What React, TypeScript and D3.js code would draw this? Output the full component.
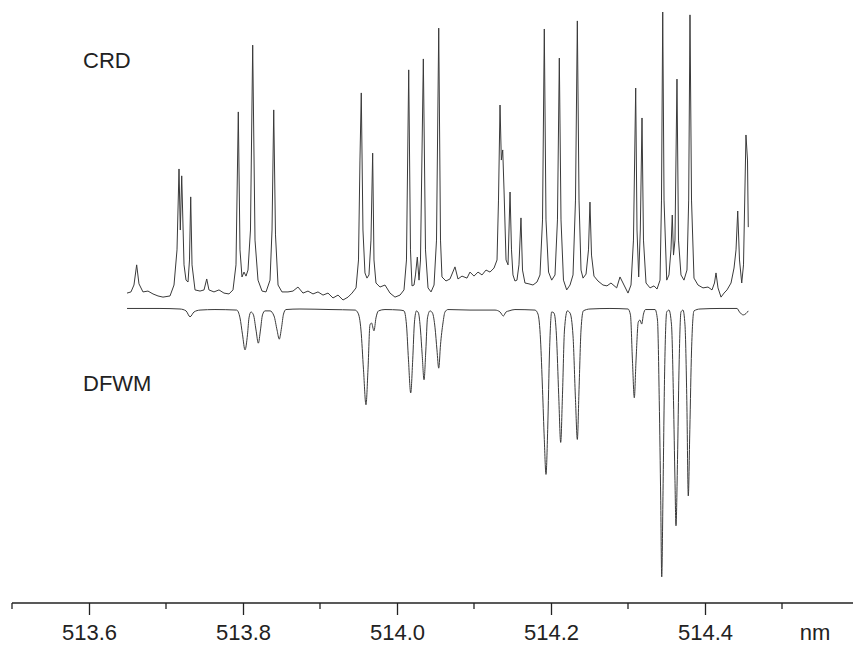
import React, { useEffect, useRef } from 'react'
import * as d3 from 'd3'

// CRD spectrum: [wavelength nm, intensity (arb.)]
const crdTrace: [number, number][] = [
  [513.6494, 2.4], [513.6545, 2.8], [513.6584, 5.2], [513.6619, 12.2], [513.6649, 5.6], [513.6701, 2.8],
  [513.6766, 3.1], [513.6831, 2.1], [513.6896, 1.4], [513.6961, 1.0], [513.7052, 1.4], [513.7104, 5.2],
  [513.7143, 17.4], [513.7169, 45.5], [513.7186, 24.3], [513.7204, 43.1], [513.7234, 12.2], [513.726, 6.9],
  [513.7286, 6.25], [513.7305, 13.9], [513.7321, 35.8], [513.7338, 12.2], [513.7377, 3.5], [513.7442, 3.1],
  [513.7494, 3.5], [513.7529, 7.3], [513.7558, 3.5], [513.7623, 2.8], [513.7688, 3.5], [513.7753, 2.4],
  [513.7818, 2.1], [513.787, 3.5], [513.7909, 12.2], [513.7939, 65.3], [513.7961, 17.4], [513.7987, 8.0],
  [513.8013, 9.7], [513.8039, 8.3], [513.8065, 10.4], [513.8097, 24.3], [513.8126, 88.5], [513.8156, 20.8],
  [513.8195, 6.9], [513.8247, 3.1], [513.8299, 2.8], [513.8351, 6.9], [513.8377, 24.3], [513.8399, 66.0],
  [513.8422, 22.6], [513.8455, 5.2], [513.8506, 2.8], [513.8584, 2.8], [513.8649, 3.1], [513.8714, 4.5],
  [513.8779, 2.4], [513.8844, 3.1], [513.8909, 2.1], [513.8974, 2.8], [513.9039, 1.7], [513.9104, 2.4],
  [513.9169, 0.7], [513.9234, 1.7], [513.9299, 0], [513.9364, 1.0], [513.9416, 2.4], [513.9468, 4.2],
  [513.95, 13.9], [513.9519, 48.6], [513.9536, 71.9], [513.9558, 24.3], [513.9584, 9.4], [513.961, 7.6],
  [513.9636, 8.7], [513.9662, 20.8], [513.9684, 51.0], [513.9701, 13.9], [513.9727, 5.9], [513.9779, 4.5],
  [513.9844, 5.2], [513.9909, 2.4], [513.9974, 1.0], [514.0039, 1.7], [514.0091, 3.5], [514.0123, 13.9],
  [514.0152, 79.9], [514.0175, 17.4], [514.0195, 4.9], [514.0221, 5.2], [514.024, 8.7], [514.0264, 14.9],
  [514.0286, 6.9], [514.0305, 13.9], [514.0342, 83.7], [514.037, 17.4], [514.0403, 4.2], [514.0442, 2.8],
  [514.0481, 5.2], [514.0513, 20.8], [514.0542, 94.4], [514.0565, 20.8], [514.0584, 8.0], [514.0636, 6.6],
  [514.0688, 7.3], [514.0753, 11.5], [514.0792, 7.3], [514.0844, 8.3], [514.0909, 7.6], [514.0948, 9.7],
  [514.1, 8.3], [514.1052, 9.7], [514.1104, 8.7], [514.1156, 10.4], [514.1208, 9.7], [514.126, 11.1],
  [514.1299, 13.9], [514.1318, 34.7], [514.1338, 67.7], [514.1355, 48.6], [514.1373, 52.1], [514.139, 38.2],
  [514.1416, 13.9], [514.1442, 12.2], [514.1468, 37.5], [514.1487, 17.4], [514.1506, 8.7], [514.1532, 6.6],
  [514.1558, 6.9], [514.1584, 12.2], [514.161, 28.5], [514.163, 10.4], [514.1662, 5.9], [514.1714, 5.6],
  [514.1766, 5.2], [514.1818, 6.25], [514.1857, 8.7], [514.189, 27.8], [514.1913, 94.1], [514.1935, 27.8],
  [514.1968, 9.7], [514.2009, 6.9], [514.2052, 8.7], [514.2084, 27.8], [514.2108, 84.0], [514.213, 27.8],
  [514.2162, 6.9], [514.2204, 3.5], [514.2247, 5.2], [514.2286, 8.7], [514.2318, 34.7], [514.2342, 96.9],
  [514.2364, 34.7], [514.239, 10.4], [514.2416, 7.6], [514.2455, 9.0], [514.2487, 17.4], [514.2506, 34.0],
  [514.2526, 15.6], [514.2558, 8.3], [514.261, 6.6], [514.2675, 5.2], [514.2727, 4.9], [514.2779, 5.9],
  [514.2853, 4.2], [514.2896, 8.0], [514.2948, 5.2], [514.3, 2.4], [514.3039, 5.2], [514.3071, 20.8],
  [514.31, 73.6], [514.3117, 24.3], [514.3139, 8.0], [514.316, 24.3], [514.3182, 63.2], [514.3201, 20.8],
  [514.3234, 5.9], [514.3286, 4.2], [514.3338, 4.9], [514.3377, 3.8], [514.3416, 6.9], [514.3435, 34.7],
  [514.3451, 100], [514.3468, 34.7], [514.3503, 6.9], [514.3532, 8.7], [514.3558, 17.4], [514.3575, 29.5],
  [514.3591, 15.6], [514.361, 20.8], [514.3636, 76.7], [514.3656, 20.8], [514.3688, 8.7], [514.3727, 6.9],
  [514.3766, 10.4], [514.3788, 34.7], [514.3805, 99.0], [514.3825, 34.7], [514.3857, 7.6], [514.3909, 5.2],
  [514.3974, 4.2], [514.4039, 4.5], [514.4091, 3.5], [514.4123, 5.9], [514.4143, 9.4], [514.4169, 4.2],
  [514.4208, 1.0], [514.4247, 2.4], [514.4286, 3.5], [514.4338, 5.9], [514.4377, 11.1], [514.4403, 17.4],
  [514.4425, 30.9], [514.4448, 13.9], [514.4477, 5.9], [514.45, 12.2], [514.4532, 57.3], [514.4552, 48.6],
  [514.4562, 25.3],
]

// DFWM spectrum (plotted downwards): [wavelength nm, intensity (arb.)]
const dfwmTrace: [number, number][] = [
  [513.6494, -0.2], [513.6922, -0.2], [513.7182, 0], [513.726, 0.7], [513.7312, 2.9], [513.7364, 1.1],
  [513.7442, 0.4], [513.7636, 0.2], [513.7918, 0.4], [513.7961, 3.3], [513.7994, 9.6], [513.8026, 15.2],
  [513.8058, 9.6], [513.8078, 3.3], [513.8104, 1.1], [513.8136, 2.2], [513.8169, 7.8], [513.8199, 12.7],
  [513.8227, 7.8], [513.8253, 2.2], [513.8286, 0.7], [513.8351, 0.7], [513.8403, 2.6], [513.8442, 7.8],
  [513.8471, 11.2], [513.85, 7.0], [513.8526, 1.9], [513.8558, 0.2], [513.874, 0], [513.913, 0.2],
  [513.9455, 0.4], [513.9494, 1.5], [513.9532, 7.8], [513.9565, 22.6], [513.9597, 35.6], [513.9623, 22.6],
  [513.9649, 5.9], [513.9669, 5.2], [513.9701, 8.1], [513.9727, 3.3], [513.976, 0.7], [513.9844, 0.2],
  [514.0039, 0.4], [514.0091, 0.7], [514.0123, 5.9], [514.0149, 18.9], [514.0178, 31.2], [514.0204, 18.9],
  [514.0227, 4.8], [514.0253, 0.7], [514.0279, 1.5], [514.0305, 7.8], [514.0327, 17.0], [514.0351, 26.3],
  [514.0374, 15.6], [514.0396, 3.3], [514.0429, 0.7], [514.0461, 1.5], [514.0494, 7.0], [514.0519, 15.2],
  [514.0542, 22.0], [514.0565, 13.3], [514.0597, 5.2], [514.0623, 1.1], [514.0662, 0.2], [514.0948, 0.4],
  [514.1273, 0.4], [514.1338, 1.1], [514.1381, 2.6], [514.1416, 1.1], [514.1455, 0.7], [514.1532, 0.2],
  [514.1792, 0.4], [514.1831, 1.9], [514.1864, 11.5], [514.189, 30.0], [514.1913, 48.5], [514.1935, 61.5],
  [514.1957, 44.8], [514.1981, 15.6], [514.2009, 1.1], [514.2039, 1.5], [514.2071, 10.0], [514.21, 31.9],
  [514.2126, 49.6], [514.2149, 31.9], [514.2175, 7.8], [514.2212, 0.7], [514.2247, 1.5], [514.2286, 10.0],
  [514.2318, 33.7], [514.2342, 48.5], [514.2364, 30.0], [514.239, 7.8], [514.242, 0.7], [514.2506, 0],
  [514.2766, -0.2], [514.3, 0], [514.3032, 2.2], [514.3058, 19.3], [514.3082, 33.0], [514.3104, 19.3],
  [514.3134, 4.8], [514.3156, 4.1], [514.3178, 5.6], [514.3201, 1.9], [514.3227, 0.2], [514.3351, 0.2],
  [514.3383, 4.1], [514.3406, 34.1], [514.3425, 71.1], [514.3438, 99.6], [514.3455, 67.4], [514.3474, 26.3],
  [514.3503, 1.1], [514.3532, 0.4], [514.3565, 5.9], [514.3591, 34.1], [514.361, 63.7], [514.3623, 80.6],
  [514.3643, 55.9], [514.3662, 23.0], [514.3688, 1.1], [514.3714, 0.4], [514.374, 5.9], [514.3764, 34.1],
  [514.3783, 69.5], [514.3803, 44.8], [514.3825, 15.6], [514.3857, 0.7], [514.3935, 0], [514.4195, -0.2],
  [514.4416, -0.2], [514.4448, 1.1], [514.4497, 2.2], [514.4532, 1.7], [514.4562, 0.7],
]

const majorTicks = [513.6, 513.8, 514.0, 514.2, 514.4]
const minorTicks = [513.5, 513.7, 513.9, 514.1, 514.3, 514.5]
const seriesLabels = ['CRD', 'DFWM']
const unitLabel = 'nm'

function App() {
  const svgRef = useRef<SVGSVGElement>(null)

  useEffect(() => {
    const width = 853
    const height = 650
    const axisY = 603
    const font = 'Arial, "Liberation Sans", sans-serif'

    const svg = d3.select(svgRef.current)
    svg.selectAll('*').remove()

    const x = d3.scaleLinear().domain([513.5, 514.5]).range([12, 782])
    const yCrd = d3.scaleLinear().domain([0, 100]).range([300, 12])
    const yDfwm = d3.scaleLinear().domain([0, 100]).range([309, 578])

    // spectra
    const crdLine = d3.line<[number, number]>()
      .x(d => x(d[0]))
      .y(d => yCrd(d[1]))
    const dfwmLine = d3.line<[number, number]>()
      .x(d => x(d[0]))
      .y(d => yDfwm(d[1]))
      .curve(d3.curveMonotoneX)

    svg.append('path')
      .datum(crdTrace)
      .attr('fill', 'none')
      .attr('stroke', '#3a3a3a')
      .attr('stroke-width', 1)
      .attr('stroke-linejoin', 'round')
      .attr('d', crdLine)

    svg.append('path')
      .datum(dfwmTrace)
      .attr('fill', 'none')
      .attr('stroke', '#3a3a3a')
      .attr('stroke-width', 1)
      .attr('stroke-linejoin', 'round')
      .attr('d', dfwmLine)

    // x axis
    const axisG = svg.append('g').attr('transform', `translate(0,${axisY})`)
    axisG.call(
      d3.axisBottom(x)
        .tickValues(majorTicks)
        .tickSize(12)
        .tickPadding(9)
        .tickFormat(d3.format('.1f'))
    )
    axisG.select('.domain').remove()
    axisG.selectAll('.tick line').attr('stroke', '#222').attr('stroke-width', 1.3)
    axisG.selectAll('.tick text')
      .attr('fill', '#222')
      .style('font-family', font)
      .style('font-size', '22px')

    axisG.selectAll('.minor')
      .data(minorTicks)
      .enter()
      .append('line')
      .attr('x1', d => x(d))
      .attr('x2', d => x(d))
      .attr('y1', 0)
      .attr('y2', 6)
      .attr('stroke', '#222')
      .attr('stroke-width', 1.3)

    axisG.append('line')
      .attr('x1', x(513.5))
      .attr('x2', width)
      .attr('y1', 0)
      .attr('y2', 0)
      .attr('stroke', '#222')
      .attr('stroke-width', 1.5)

    axisG.append('text')
      .attr('x', 815)
      .attr('y', 21)
      .attr('dy', '0.71em')
      .attr('fill', '#222')
      .style('font-family', font)
      .style('font-size', '22px')
      .text(unitLabel)

    // series labels
    svg.append('text')
      .attr('x', 83)
      .attr('y', 68)
      .attr('fill', '#222')
      .style('font-family', font)
      .style('font-size', '22px')
      .text(seriesLabels[0])

    svg.append('text')
      .attr('x', 83)
      .attr('y', 391)
      .attr('fill', '#222')
      .style('font-family', font)
      .style('font-size', '22px')
      .text(seriesLabels[1])

    svg.attr('width', width).attr('height', height)
  }, [])

  return (
    <svg
      ref={svgRef}
      width={853}
      height={650}
      style={{ position: 'absolute', left: 0, top: 0, background: '#fff' }}
    />
  )
}

export default App
